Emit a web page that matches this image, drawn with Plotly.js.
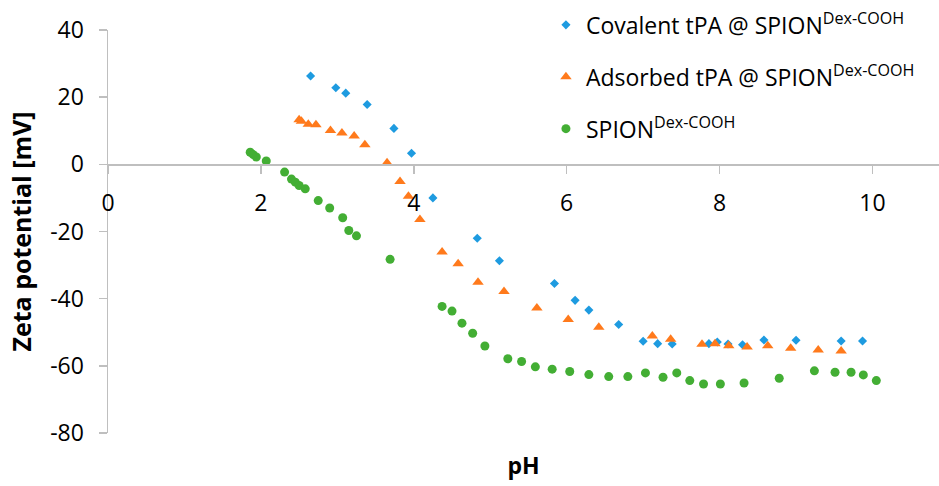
<!DOCTYPE html>
<html>
<head>
<meta charset="utf-8">
<script src="https://cdn.plot.ly/plotly-3.0.1.min.js"></script>
<style>html,body{margin:0;padding:0;background:#fff;}#chart{width:939px;height:486px;}</style>
</head>
<body>
<div id="chart"></div>
<script>
// Covalent tPA @ SPION(Dex-COOH)
const covalentPH = [2.65, 2.98, 3.11, 3.39, 3.74, 3.97, 4.25, 4.83, 5.12, 5.84, 6.11, 6.29, 6.68, 7.00, 7.19, 7.38, 7.86, 7.97, 8.11, 8.30, 8.58, 9.00, 9.59, 9.87];
const covalentZeta = [26.3, 22.8, 21.2, 17.8, 10.7, 3.3, -10.0, -22.0, -28.7, -35.5, -40.5, -43.4, -47.7, -52.7, -53.4, -53.5, -53.4, -52.9, -53.5, -53.7, -52.3, -52.4, -52.6, -52.6];

// Adsorbed tPA @ SPION(Dex-COOH)
const adsorbedPH = [2.50, 2.53, 2.62, 2.72, 2.91, 3.06, 3.22, 3.36, 3.65, 3.82, 3.93, 4.08, 4.37, 4.58, 4.84, 5.18, 5.61, 6.02, 6.42, 7.12, 7.36, 7.77, 7.94, 8.12, 8.36, 8.63, 8.93, 9.29, 9.59];
const adsorbedZeta = [13.3, 12.8, 11.9, 11.8, 10.1, 9.3, 8.4, 5.8, 0.5, -5.1, -9.5, -16.4, -26.1, -29.6, -35.1, -37.9, -42.8, -46.2, -48.5, -51.1, -52.1, -53.6, -53.4, -54.0, -54.4, -54.0, -54.8, -55.3, -55.6];

// SPION(Dex-COOH)
const spionPH = [1.86, 1.90, 1.94, 2.07, 2.31, 2.40, 2.45, 2.50, 2.58, 2.75, 2.90, 3.07, 3.15, 3.25, 3.69, 4.37, 4.50, 4.63, 4.77, 4.93, 5.23, 5.41, 5.59, 5.81, 6.04, 6.29, 6.55, 6.80, 7.03, 7.26, 7.44, 7.61, 7.79, 8.01, 8.32, 8.78, 9.24, 9.51, 9.72, 9.88, 10.05];
const spionZeta = [3.6, 2.9, 2.2, 1.0, -2.3, -4.4, -5.3, -6.3, -7.3, -10.8, -13.0, -15.9, -19.7, -21.3, -28.3, -42.3, -43.7, -47.3, -50.3, -54.1, -57.9, -58.7, -60.3, -61.0, -61.7, -62.6, -63.2, -63.2, -62.1, -63.4, -62.1, -64.4, -65.4, -65.4, -65.1, -63.7, -61.5, -61.9, -61.9, -62.7, -64.4];

const seriesNames = [
  'Covalent tPA @ SPION<sup>Dex-COOH</sup>',
  'Adsorbed tPA @ SPION<sup>Dex-COOH</sup>',
  'SPION<sup>Dex-COOH</sup>'
];
const xTicks = [0, 2, 4, 6, 8, 10];
const yTicks = [-80, -60, -40, -20, 0, 20, 40];

const FONT = 'Open Sans, Noto Sans, sans-serif';

const traces = [
  {x: covalentPH, y: covalentZeta, name: seriesNames[0], legendgroup: 'a', type: 'scatter', mode: 'markers',
   marker: {symbol: 'diamond', size: 7, color: '#1E9BE0'}},
  {x: adsorbedPH, y: adsorbedZeta, name: seriesNames[1], legendgroup: 'b', type: 'scatter', mode: 'markers',
   marker: {symbol: 'triangle-up', size: 10, color: '#FF7A1C'}},
  {x: spionPH, y: spionZeta, name: seriesNames[2], legendgroup: 'c', type: 'scatter', mode: 'markers',
   marker: {symbol: 'circle', size: 9, color: '#43AE34'}}
];

const layout = {
  width: 939, height: 486,
  margin: {l: 108, r: 0, t: 30, b: 53},
  paper_bgcolor: '#ffffff', plot_bgcolor: '#ffffff',
  font: {family: FONT, color: '#000000', size: 20},
  showlegend: true,
  legend: {x: 0.527, y: 1.066, xanchor: 'left', yanchor: 'top', bgcolor: 'rgba(0,0,0,0)',
           font: {family: FONT, size: 23, color: '#000'}, tracegroupgap: 19, traceorder: 'grouped',
           itemsizing: 'trace'},
  xaxis: {
    range: [0, 10.87], tickvals: xTicks, ticktext: xTicks.map(String),
    anchor: 'free', position: 80/120,
    showline: true, linecolor: '#BFBFBF', linewidth: 1.5,
    ticks: 'outside', ticklen: 8, tickcolor: '#BFBFBF', tickwidth: 1.5,
    ticklabelstandoff: 10,
    showgrid: false, zeroline: false,
    tickfont: {family: FONT, size: 23, color: '#000'},
    title: {text: '<b>pH</b>', font: {family: FONT, size: 23, color: '#000'}, standoff: 240}
  },
  yaxis: {
    range: [-80, 40], tickvals: yTicks, ticktext: yTicks.map(String),
    showline: true, linecolor: '#BFBFBF', linewidth: 1.5,
    ticks: 'outside', ticklen: 8, tickcolor: '#BFBFBF', tickwidth: 1.5,
    ticklabelstandoff: 10,
    showgrid: false, zeroline: false,
    tickfont: {family: FONT, size: 23, color: '#000'},
    title: {text: '<b>Zeta potential [mV]</b>', font: {family: FONT, size: 25, color: '#000'}, standoff: 11}
  }
};

Plotly.newPlot('chart', traces, layout, {displayModeBar: false, staticPlot: true});
</script>
</body>
</html>
